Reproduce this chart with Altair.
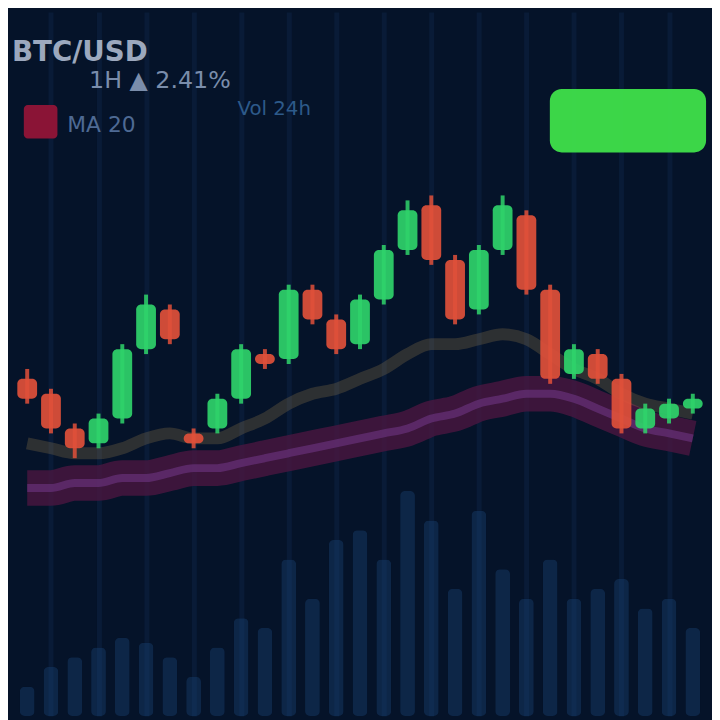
import altair as alt
import pandas as pd

# ---- data -------------------------------------------------------------
idx = list(range(1, 30))
opens = [68, 65, 58, 55, 60, 74, 82, 57, 58, 64, 73, 72, 86, 80, 75, 84, 94,
         103, 92, 82, 94, 101, 86, 69, 73, 68, 58, 60, 62]
closes = [64, 58, 54, 60, 74, 83, 76, 55, 64, 74, 71, 86, 80, 74, 84, 94, 102,
          92, 80, 94, 103, 86, 68, 74, 68, 58, 62, 63, 64]
highs = [70, 66, 59, 61, 75, 85, 83, 58, 65, 75, 74, 87, 87, 81, 85, 95, 104,
         105, 93, 95, 105, 102, 87, 75, 74, 69, 63, 64, 65]
lows = [63, 57, 52, 54, 59, 73, 75, 54, 57, 63, 70, 71, 79, 73, 74, 83, 93,
        91, 79, 81, 93, 85, 67, 68, 67, 57, 57, 59, 61]
volume = [30, 50, 60, 70, 80, 75, 60, 40, 70, 100, 90, 160, 120, 180, 190, 160,
          230, 200, 130, 210, 150, 120, 160, 120, 130, 140, 110, 120, 90]
ma_slow = [46, 46, 47, 47, 48, 48, 49, 50, 50, 51, 52, 53, 54, 55, 56, 57, 58,
           60, 61, 63, 64, 65, 65, 64, 62, 60, 58, 57, 56]
ma_fast = [55, 54, 53, 53, 54, 56, 57, 56, 56, 58, 60, 63, 65, 66, 68, 70, 73,
           75, 75, 76, 77, 76, 73, 70, 68, 65, 63, 62, 61]

df = pd.DataFrame({"i": idx, "open": opens, "close": closes, "high": highs,
                   "low": lows, "vol": volume, "ma_slow": ma_slow, "ma_fast": ma_fast})
df["dir"] = ["up" if c >= o else "down" for o, c in zip(opens, closes)]

W, H = 712, 712
xs = alt.Scale(domain=[0.4, 29.6], nice=False, zero=False)
ys = alt.Scale(domain=[0, 142], nice=False, zero=False)
col = alt.Color("dir:N", scale=alt.Scale(domain=["up", "down"],
                                          range=["#2fd36a", "#e0503a"]), legend=None)

base = alt.Chart(df)

vol = base.mark_bar(size=15, color="#1d4a80", opacity=0.35, cornerRadius=5).encode(
    x=alt.X("i:Q", scale=xs, axis=alt.Axis(labels=False, ticks=False, domain=False,
                                           title=None, grid=True, gridColor="#0d2346",
                                           gridWidth=5, gridOpacity=0.5, tickCount=12)),
    y=alt.Y("vol:Q", scale=alt.Scale(domain=[0, 720], nice=False), axis=None),
)

ma1 = base.mark_line(color="#4a1640", strokeWidth=36, opacity=0.8,
                     interpolate="monotone").encode(
    x=alt.X("i:Q", scale=xs), y=alt.Y("ma_slow:Q", scale=ys, axis=None))
ma1b = base.mark_line(color="#6e3584", strokeWidth=8, opacity=0.6,
                      interpolate="monotone").encode(
    x=alt.X("i:Q", scale=xs), y=alt.Y("ma_slow:Q", scale=ys, axis=None))
ma2 = base.mark_line(color="#a8884e", strokeWidth=12, opacity=0.25,
                     interpolate="monotone").encode(
    x=alt.X("i:Q", scale=xs), y=alt.Y("ma_fast:Q", scale=ys, axis=None))

wick = base.mark_rule(strokeWidth=4, opacity=0.85).encode(
    x=alt.X("i:Q", scale=xs), y=alt.Y("low:Q", scale=ys, axis=None), y2="high:Q",
    color=col)
body = base.mark_bar(size=20, opacity=0.92, cornerRadius=5).encode(
    x=alt.X("i:Q", scale=xs), y=alt.Y("open:Q", scale=ys, axis=None), y2="close:Q",
    color=col)

tag = alt.Chart(pd.DataFrame({"t": [""]})).mark_rect(
    color="#3fe04a", cornerRadius=12, opacity=0.95).encode(
    x=alt.value(548), x2=alt.value(706), y=alt.value(78), y2=alt.value(142))

title = alt.Chart(pd.DataFrame({"t": ["BTC/USD"]})).mark_text(
    align="left", baseline="middle", fontSize=28, fontWeight="bold",
    color="#b7c3d8", font="DejaVu Sans", opacity=0.85).encode(
    text="t:N", x=alt.value(4), y=alt.value(42))
sub = alt.Chart(pd.DataFrame({"t": ["1H  ▲ 2.41%"]})).mark_text(
    align="left", baseline="middle", fontSize=24, color="#8fa3c2",
    font="DejaVu Sans", opacity=0.85).encode(
    text="t:N", x=alt.value(82), y=alt.value(70))
vol_lbl = alt.Chart(pd.DataFrame({"t": ["Vol 24h"]})).mark_text(
    align="left", baseline="middle", fontSize=20, color="#2d5a8a",
    font="DejaVu Sans").encode(
    text="t:N", x=alt.value(232), y=alt.value(98))
red_sq = alt.Chart(pd.DataFrame({"t": [""]})).mark_rect(
    color="#8a1436", cornerRadius=4).encode(
    x=alt.value(16), x2=alt.value(50), y=alt.value(94), y2=alt.value(128))
red_lbl = alt.Chart(pd.DataFrame({"t": ["MA 20"]})).mark_text(
    align="left", baseline="middle", fontSize=22, color="#4e6a94",
    font="DejaVu Sans").encode(
    text="t:N", x=alt.value(60), y=alt.value(114))

chart = alt.layer(vol, ma1, ma1b, ma2, wick, body, tag, title, sub, vol_lbl,
                  red_sq, red_lbl).resolve_scale(y="independent").properties(
    width=W, height=H, padding=0, autosize="none", background="#051329"
).configure_view(stroke=None, fill="#051329")

chart.save("out.html", embed_options={"renderer": "svg", "actions": False})
